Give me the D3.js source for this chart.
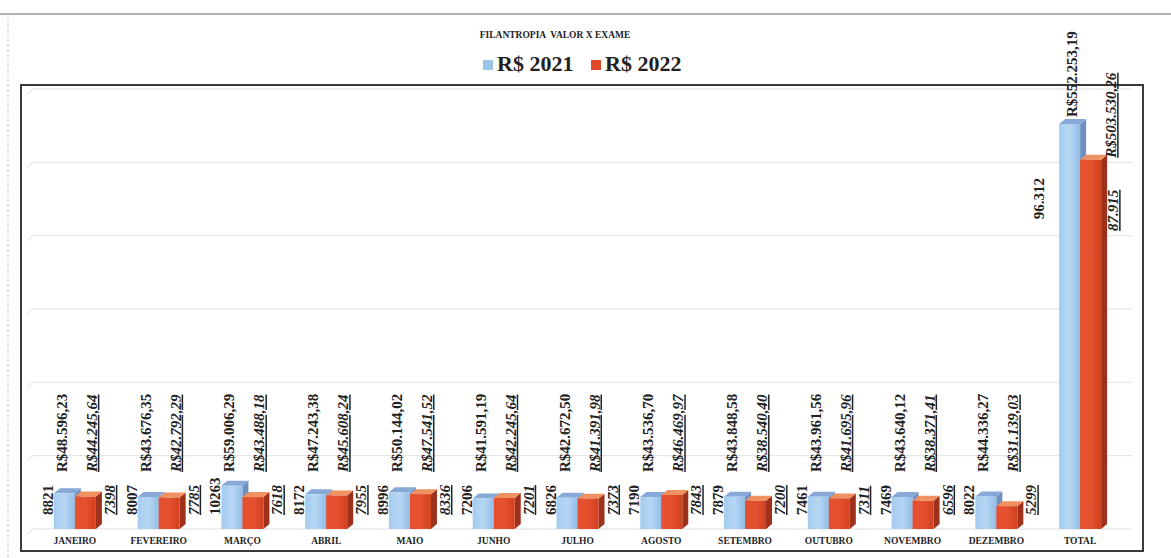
<!DOCTYPE html>
<html><head><meta charset="utf-8">
<script src="https://cdn.jsdelivr.net/npm/d3@7"></script>
<style>
html,body{margin:0;padding:0;background:#fff;}
svg{display:block;}
text{font-family:"Liberation Serif","Times New Roman",serif;font-weight:bold;fill:#222;}
</style></head>
<body><svg id="c" width="1171" height="558"></svg>
<script>
const months = ["JANEIRO","FEVEREIRO","MARÇO","ABRIL","MAIO","JUNHO","JULHO","AGOSTO","SETEMBRO","OUTUBRO","NOVEMBRO","DEZEMBRO"];
const totalLabel = "TOTAL";
const valor2021 = [48596.23,43676.35,59006.29,47243.38,50144.02,41591.19,42672.50,43536.70,43848.58,43961.56,43640.12,44336.27];
const valor2022 = [44245.64,42792.29,43488.18,45608.24,47541.52,42245.64,41391.98,46469.97,38540.40,41695.96,38371.41,31139.03];
const exames2021 = [8821,8007,10263,8172,8996,7206,6826,7190,7879,7461,7469,8022];
const exames2022 = [7398,7785,7618,7955,8336,7201,7373,7843,7200,7311,6596,5299];
const seriesNames = ["R$ 2021","R$ 2022"];
const title = "FILANTROPIA  VALOR X EXAME";

const loc = d3.formatLocale({decimal:",",thousands:".",grouping:[3],currency:["R$",""]});
const fMoney = loc.format("$,.2f");
const fCountTotal = loc.format(",d");

const categories = months.concat([totalLabel]);
const rows = categories.map((c,i)=> i<months.length
  ? {cat:c, v:[valor2021[i],valor2022[i]], n:[exames2021[i],exames2022[i]], total:false}
  : {cat:c, v:[d3.sum(valor2021),d3.sum(valor2022)], n:[d3.sum(exames2021),d3.sum(exames2022)], total:true});

const svg = d3.select("#c");
const defs = svg.append("defs");
function grad(id, stops){
  const g = defs.append("linearGradient").attr("id",id).attr("x1","0").attr("x2","1").attr("y1","0").attr("y2","0");
  stops.forEach(s=>g.append("stop").attr("offset",s[0]).attr("stop-color",s[1]));
}
grad("gBlue",[[0,"#a4cbef"],[0.5,"#b6d7f3"],[1,"#92bde7"]]);
grad("gRed",[[0,"#e6502f"],[0.5,"#e4512f"],[1,"#d2401f"]]);
const colors = {
  front:["url(#gBlue)","url(#gRed)"],
  top:["#86a9d9","#f0925f"],
  side:["#6f90c0","#9e311c"],
  legend:["#9cc5ea","#e04a2a"]
};

// outer chart frame (scan edges)
svg.append("line").attr("x1",0).attr("x2",1171).attr("y1",14).attr("y2",14).attr("stroke","#9a9a9a").attr("stroke-width",1.5);
svg.append("line").attr("x1",8).attr("x2",8).attr("y1",14).attr("y2",558).attr("stroke","#c8c8c8").attr("stroke-width",1).attr("stroke-dasharray","3,2");

// title + legend
svg.append("text").attr("x",555).attr("y",38).attr("text-anchor","middle").attr("font-size",9.5).style("white-space","pre").text(title);
const legX = [483, 591];
seriesNames.forEach((s,i)=>{
  svg.append("rect").attr("x",legX[i]).attr("y",60).attr("width",10).attr("height",10).attr("fill",colors.legend[i]);
  svg.append("text").attr("x",legX[i]+14).attr("y",71).attr("font-size",22).text(s);
});

// scales
const floorY = 529, topY = 89;
const x = d3.scaleBand().domain(categories).range([33,1122]);
const x1 = d3.scaleBand().domain([0,1]).range([0,42]);
const y = d3.scaleLinear().domain([0,600000]).range([floorY, topY]);
const dx = 6, dy = 5;

// gridlines (back wall)
const grid = svg.append("g");
y.ticks(6).forEach(t=>{
  grid.append("line").attr("x1",33).attr("x2",1132).attr("y1",y(t)).attr("y2",y(t)).attr("stroke","#e0e0e0").attr("stroke-width",1);
  grid.append("line").attr("x1",27).attr("x2",33).attr("y1",y(t)+5).attr("y2",y(t)).attr("stroke","#e0e0e0").attr("stroke-width",1);
});

// plot border
svg.append("rect").attr("x",21).attr("y",85).attr("width",1122).attr("height",466).attr("fill","none").attr("stroke","#3a3a3a").attr("stroke-width",2);

// bars
const bars = svg.append("g");
rows.forEach(r=>{
  const off = x(r.cat) + (x.bandwidth()-42)/2;
  [0,1].forEach(k=>{
    const bx = off + x1(k), bw = x1.bandwidth(), bt = y(r.v[k]), bb = floorY;
    const g = bars.append("g");
    g.append("path").attr("d",`M${bx+bw},${bt}L${bx+bw+dx},${bt-dy}L${bx+bw+dx},${bb-dy}L${bx+bw},${bb}Z`).attr("fill",colors.side[k]);
    g.append("path").attr("d",`M${bx},${bt}L${bx+dx},${bt-dy}L${bx+bw+dx},${bt-dy}L${bx+bw},${bt}Z`).attr("fill",colors.top[k]);
    g.append("rect").attr("x",bx).attr("y",bt).attr("width",bw).attr("height",bb-bt).attr("fill",colors.front[k]);
  });
});

// labels
const labs = svg.append("g");
function vtext(px, py, txt, anchor, under){
  const t = labs.append("text").attr("transform",`translate(${px},${py}) rotate(-90)`).attr("text-anchor",anchor).attr("font-size",15).text(txt);
  if(under){ t.style("font-style","italic").style("text-decoration","underline"); }
  return t;
}
rows.forEach(r=>{
  const off = x(r.cat) + (x.bandwidth()-42)/2;
  const bl = off; // blue bar left
  const tb = y(r.v[0]), tr = y(r.v[1]);
  const cnt0 = r.total ? fCountTotal(r.n[0]) : String(r.n[0]);
  const cnt1 = r.total ? fCountTotal(r.n[1]) : String(r.n[1]);
  if(!r.total){
    vtext(bl-1, floorY-14, cnt0, "start", false);
    vtext(bl+13, floorY-57, fMoney(r.v[0]), "start", false);
    vtext(bl+43, floorY-57, fMoney(r.v[1]), "start", true);
    vtext(bl+61, floorY-14, cnt1, "start", true);
  } else {
    vtext(bl-15, tb+54, cnt0, "end", false);
    vtext(bl+18, tb-7, fMoney(r.v[0]), "start", false);
    vtext(bl+57, tr-2, fMoney(r.v[1]), "start", true);
    vtext(bl+59, tr+30, cnt1, "end", true);
  }
});

// category axis labels
const xa = svg.append("g").attr("transform",`translate(0,${floorY})`).call(d3.axisBottom(x).tickSize(0).tickPadding(10));
xa.select(".domain").remove();
xa.selectAll("text").attr("font-size",9.5).attr("font-family","Liberation Serif").attr("font-weight","bold").attr("fill","#222").attr("dy","0.55em");
</script></body></html>
